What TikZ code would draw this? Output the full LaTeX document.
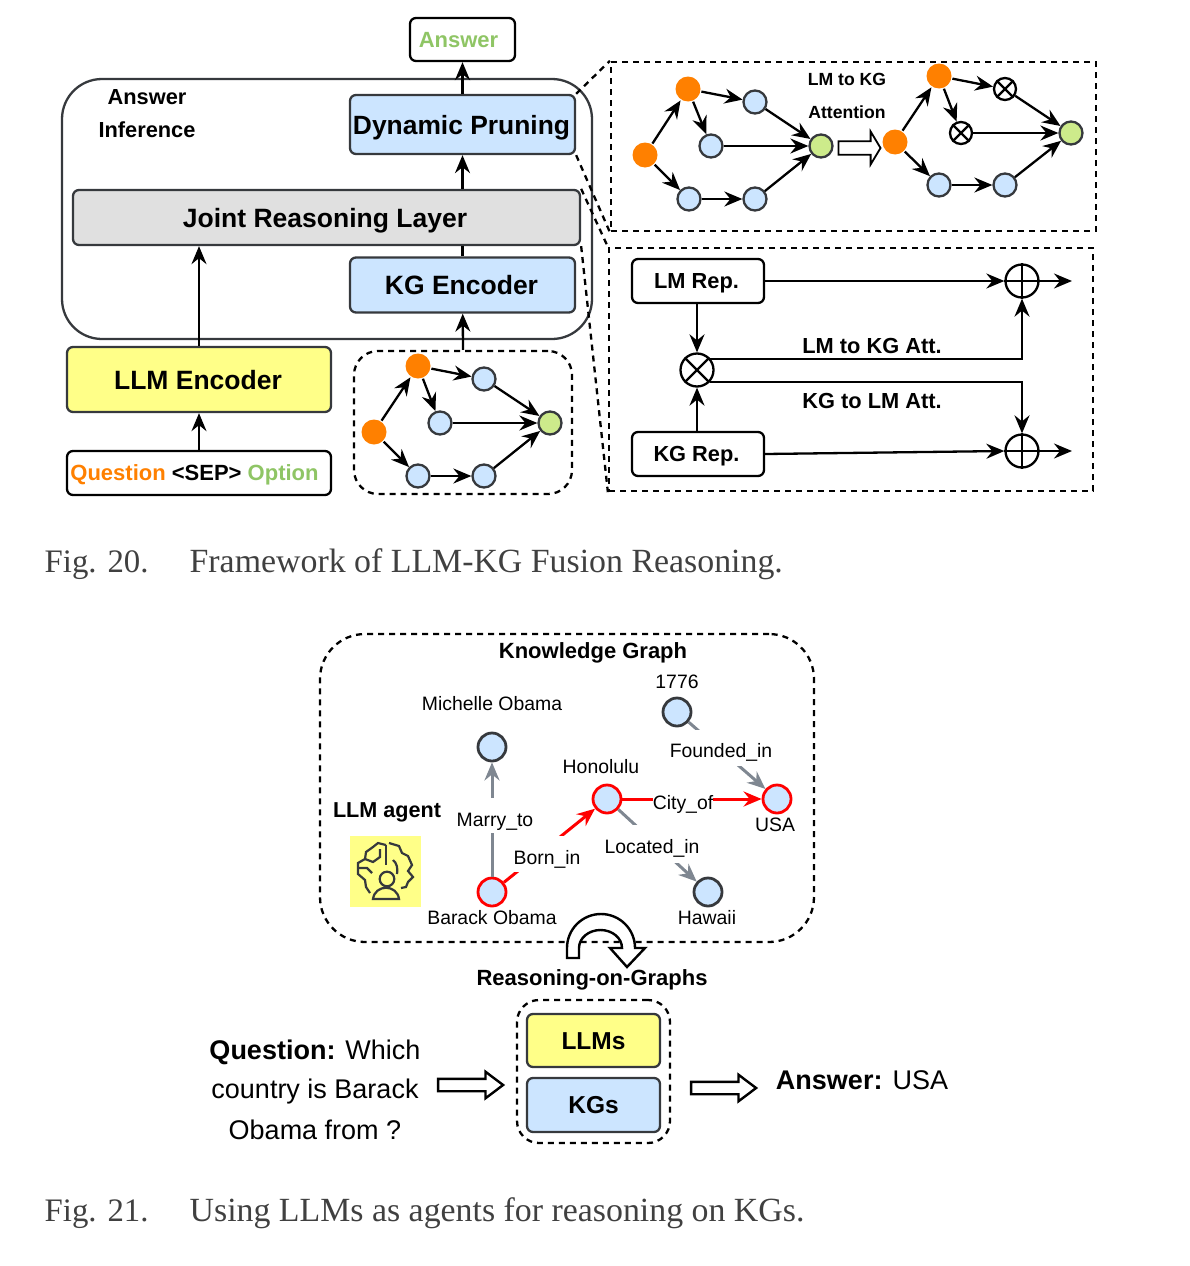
\documentclass[tikz,border=0pt]{standalone}
\usepackage{fontspec}
\setmainfont{Liberation Sans}
\newfontfamily\capfont{Liberation Serif}
\usetikzlibrary{arrows.meta,shapes.arrows}
\definecolor{nodeblue}{HTML}{CCE5FF}
\definecolor{nodeorange}{HTML}{FF8000}
\definecolor{nodegreen}{HTML}{CDEB8B}
\definecolor{boxyellow}{HTML}{FFFF88}
\definecolor{boxgray}{HTML}{E0E0E0}
\definecolor{edgegray}{HTML}{36393D}
\definecolor{linkgray}{HTML}{7F8791}
\definecolor{textgreen}{HTML}{8FC565}
\definecolor{capgray}{HTML}{404040}
\newcommand{\sz}[1]{\fontsize{#1}{#1}\selectfont}

\begin{document}
\begin{tikzpicture}[x=1pt, y=-1pt, line width=2.3pt, >={Stealth[length=18pt,width=15pt,inset=6pt]},
  capsize/.code={\pgfmathsetmacro\caph{0.72*#1}\tikzset{font=\sz{#1}\bfseries, text height=\caph pt, text depth=0pt}},
  regsize/.code={\pgfmathsetmacro\caph{0.72*#1}\tikzset{font=\sz{#1}, text height=\caph pt, text depth=0pt}},
  block/.style={draw=edgegray, rounded corners=6pt, inner sep=0pt},
  plainblock/.style={draw=black, rounded corners=6pt, inner sep=0pt},
  dashbox/.style={draw=black, dash pattern=on 6pt off 5pt, inner sep=0pt},
  gblue/.style={circle, draw=edgegray, fill=nodeblue, minimum size=23pt, inner sep=0pt},
  gorange/.style={circle, fill=nodeorange, minimum size=25pt, inner sep=0pt},
  ggreen/.style={circle, draw=edgegray, fill=nodegreen, minimum size=23pt, inner sep=0pt},
  opnode/.style={circle, draw=black, minimum size=33pt, inner sep=0pt},
  smallop/.style={circle, draw=black, minimum size=22pt, inner sep=0pt},
  kgnode/.style={circle, draw=edgegray, fill=nodeblue, minimum size=28pt, inner sep=0pt, line width=2.8pt},
  kgred/.style={kgnode, draw=red},
  kgedge/.style={line width=3pt},
  hollow/.style={single arrow, draw=black, fill=white, inner xsep=0pt},
  edgelabel/.style={anchor=base, fill=white, inner sep=0pt, font=\sz{19.4}},
  kglabel/.style={font=\sz{19.4}},
  boldlabel/.style={capsize=21.8},
  caption/.style={anchor=base west, inner sep=0pt, text=capgray, font=\capfont\sz{33.85}}]
  \useasboundingbox (0,0) rectangle (1190,1266);

  % Outer box
  \node[draw=edgegray, rounded corners=40pt, minimum width=530pt, minimum height=260pt] (AI) at (327,209) {};
  \node[boldlabel] (T1) at (147,97) {Answer};
  \node[boldlabel] (T2) at (147,130) {Inference};

  % Blocks
  \node[plainblock, minimum width=105pt, minimum height=43pt, capsize=22, text=textgreen] (Ans) at (462.5,39.5) {Answer\kern8pt};
  \node[block, fill=nodeblue, minimum width=225pt, minimum height=59pt, capsize=26.4] (DP) at (462.5,124.5) {Dynamic Pruning\kern2pt};
  \node[block, fill=boxgray, minimum width=507pt, minimum height=55pt, capsize=26.5] (JR) at (326.5,217.5) {Joint Reasoning Layer\kern3pt};
  \node[block, fill=nodeblue, minimum width=225pt, minimum height=55pt, capsize=26.5] (KG) at (462.5,285) {KG Encoder\kern2pt};
  \node[block, fill=boxyellow, minimum width=264pt, minimum height=65pt, capsize=26.5] (LE) at (199,379.5) {LLM Encoder\kern2pt};
  \node[plainblock, minimum width=264pt, minimum height=44pt, capsize=22] (QS) at (199,473) {\textcolor{nodeorange}{Question} <SEP> \textcolor{textgreen}{Option}\kern9pt};

  % Graph box
  \node[dashbox, rounded corners=24pt, minimum width=218pt, minimum height=143pt] (GB) at (463,422.5) {};
  \node[gorange] (a1) at (374,432) {};
  \node[gorange] (a2) at (418,366) {};
  \node[gblue] (a3) at (484,379) {};
  \node[gblue] (a4) at (440,423) {};
  \node[gblue] (a5) at (418,476) {};
  \node[gblue] (a6) at (484,476) {};
  \node[ggreen] (a7) at (550,423) {};
  \draw[->] (a1) -- (a2);
  \draw[->] (a2) -- (a3);
  \draw[->] (a2) -- (a4);
  \draw[->] (a3) -- (a7);
  \draw[->] (a4) -- (a7);
  \draw[->] (a1) -- (a5);
  \draw[->] (a5) -- (a6);
  \draw[->] (a6) -- (a7);

  % Block arrows
  \draw[->] (QS) -- (LE);
  \draw[->] (LE.north) -- (JR.south -| LE.north);
  \draw[->] (JR.north -| DP) -- (DP);
  \draw[->] (DP) -- (Ans);
  \draw (KG.north) -- (JR.south -| KG);
  \draw[->] (GB.north) -- (KG);

  % Zoom panels
  \node[dashbox, minimum width=485pt, minimum height=169pt] (PU) at (853.5,146.5) {};
  \node[dashbox, minimum width=484pt, minimum height=243pt] (PL) at (851,369.5) {};
  \draw[dashbox] (DP.north east) -- (PU.north west);
  \draw[dashbox] (DP.south east) -- (PU.south west);
  \draw[dashbox] (JR.north east) -- (PL.north west);
  \draw[dashbox] (JR.south east) -- (PL.south west);

  % Upper panel
  \node[gorange] (b1) at (645,155) {};
  \node[gorange] (b2) at (688,89) {};
  \node[gblue] (b3) at (755,102) {};
  \node[gblue] (b4) at (711,146) {};
  \node[gblue] (b5) at (689,199) {};
  \node[gblue] (b6) at (755,199) {};
  \node[ggreen] (b7) at (821,146) {};
  \draw[->] (b1) -- (b2);
  \draw[->] (b2) -- (b3);
  \draw[->] (b2) -- (b4);
  \draw[->] (b3) -- (b7);
  \draw[->] (b4) -- (b7);
  \draw[->] (b1) -- (b5);
  \draw[->] (b5) -- (b6);
  \draw[->] (b6) -- (b7);
  \node[capsize=17.6] (T3) at (847,79) {LM to KG};
  \node[capsize=17.6] (T4) at (847,112) {Attention};
  \node[hollow, minimum height=42pt, minimum width=33pt, inner ysep=4pt, line width=1.8pt, single arrow tip angle=118] (HA) at (857.5,148) {};
  \node[gorange] (c1) at (895,142) {};
  \node[gorange] (c2) at (939,76) {};
  \node[smallop] (c3) at (1005,89) {};
  \node[smallop] (c4) at (961,133) {};
  \node[gblue] (c5) at (939,185) {};
  \node[gblue] (c6) at (1005,185) {};
  \node[ggreen] (c7) at (1071,133) {};
  \draw (c3.north west) -- (c3.south east) (c3.north east) -- (c3.south west);
  \draw (c4.north west) -- (c4.south east) (c4.north east) -- (c4.south west);
  \draw[->] (c1) -- (c2);
  \draw[->] (c2) -- (c3);
  \draw[->] (c2) -- (c4);
  \draw[->] (c3) -- (c7);
  \draw[->] (c4) -- (c7);
  \draw[->] (c1) -- (c5);
  \draw[->] (c5) -- (c6);
  \draw[->] (c6) -- (c7);

  % Lower panel
  \node[plainblock, minimum width=132pt, minimum height=44pt, capsize=21.8] (LM) at (698,281) {LM Rep.\kern3pt};
  \node[plainblock, minimum width=132pt, minimum height=44pt, capsize=21.8] (KR) at (698,454) {KG Rep.\kern3pt};
  \node[opnode] (Mul) at (697,370) {};
  \node[opnode] (Add1) at (1022,281) {};
  \node[opnode] (Add2) at (1022,451) {};
  \draw (Mul.north west) -- (Mul.south east) (Mul.north east) -- (Mul.south west);
  \draw (Add1.north) -- (Add1.south) (Add1.west) -- (Add1.east);
  \draw (Add2.north) -- (Add2.south) (Add2.west) -- (Add2.east);
  \coordinate (E1) at (1072,281);
  \coordinate (E2) at (1072,451);
  \coordinate (M1) at (710,359);
  \coordinate (M2) at (710,382);
  \draw[->] (LM.east) -- (Add1.west);
  \draw[->] (KR.east) -- (Add2.west);
  \draw[->] (Add1.east) -- (E1);
  \draw[->] (Add2.east) -- (E2);
  \draw[->] (LM.south -| Mul) -- (Mul.north);
  \draw[->] (KR.north -| Mul) -- (Mul.south);
  \draw[->] (M1) -- (M1 -| Add1) -- (Add1.south);
  \draw[->] (M2) -- (M2 -| Add2) -- (Add2.north);
  \node[boldlabel] (T5) at (872,346) {LM to KG Att.};
  \node[boldlabel] (T6) at (872,401) {KG to LM Att.};

  % Fig. 20 caption
  \node[caption, font=\capfont\sz{32.8}] (C1) at (43.5,572) {Fig. 20.};
  \node[caption] (C2) at (188.5,572) {Framework of LLM-KG Fusion Reasoning.};

  % Knowledge graph box
  \node[dashbox, rounded corners=45pt, minimum width=494pt, minimum height=308pt] (KB) at (567,788) {};
  \node[capsize=22] (T7) at (593,651) {Knowledge Graph};
  \node[capsize=21.6] (T8) at (387,810) {LLM agent};

  % Knowledge graph nodes
  \node[kgnode] (N1) at (677,712) {};
  \node[kgnode] (N2) at (492,747) {};
  \node[kgred] (N3) at (607,799) {};
  \node[kgred] (N4) at (777,799) {};
  \node[kgred] (N5) at (492,892) {};
  \node[kgnode] (N6) at (708,892) {};
  \node[kglabel] (L1) at (677,682) {1776};
  \node[kglabel] (L2) at (492,704) {Michelle Obama};
  \node[kglabel] (L3) at (601,767) {Honolulu};
  \node[kglabel] (L4) at (775,825) {USA};
  \node[kglabel] (L5) at (492,918) {Barack Obama};
  \node[kglabel] (L6) at (707,918) {Hawaii};

  % Knowledge graph edges
  \draw[->, kgedge, draw=linkgray] (N5) -- (N2);
  \draw[->, kgedge, draw=linkgray] (N1) -- (N4);
  \draw[->, kgedge, draw=linkgray] (N3) -- (N6);
  \draw[->, kgedge, draw=red] (N5) -- (N3);
  \draw[->, kgedge, draw=red] (N3) -- (N4);
  \node[edgelabel, text height=28pt, text depth=7pt] (R1) at (495,826) {Marry\_to};
  \node[edgelabel, text height=28pt, text depth=8pt] (R2) at (547,864) {Born\_in};
  \node[edgelabel, text height=15pt, text depth=4pt] (R3) at (683,809) {City\_of};
  \node[edgelabel, text height=28pt, text depth=10pt] (R4) at (652,853) {Located\_in};
  \node[edgelabel, text height=27pt, text depth=9pt] (R5) at (721,757) {Founded\_in};

  % Agent icon
  \node[fill=boxyellow, minimum size=71pt, inner sep=0pt] (Icon) at (385.5,871.5) {};
  \begin{scope}[draw=edgegray, line width=2.2pt]
    \draw (387,879) circle (7.3);
    \draw (373,899) .. controls (375,884) and (397,884) .. (399,899) -- cycle;
    \draw (389,843) -- (399,846) -- (402,853) -- (408,856) -- (412,865) -- (408,871) -- (413,877) -- (408,882) -- (406,887) -- (401,888);
    \draw (386,845) -- (378,843) -- (373,847) -- (366,852) -- (365,859) -- (358,863) -- (358,874) -- (365,880) -- (366,887) -- (370,893);
    \draw (386,845) -- (386,865);
    \draw (380,849) -- (380,857) -- (373,862) -- (365,859);
    \draw (358,868) -- (367,868) -- (372,873);
    \draw (393,860) .. controls (397,863) and (398,869) .. (397,874);
  \end{scope}

  % Curved arrow
  \draw[fill=white, draw=black, line width=2.4pt] (567,958) -- (567,948) arc[start angle=180, end angle=360, x radius=34, y radius=34] -- (645,948) -- (627,967) -- (610,948) -- (622,948) arc[start angle=0, end angle=-180, x radius=21.5, y radius=18] -- (579,958) -- cycle;
  \node[capsize=22] (T9) at (592,978) {Reasoning-on-Graphs};

  % Bottom row
  \node[dashbox, rounded corners=22pt, minimum width=153pt, minimum height=143pt] (SB) at (593.5,1071.5) {};
  \node[block, fill=boxyellow, minimum width=133pt, minimum height=53pt, capsize=24.5] (LL) at (593.5,1040.5) {LLMs};
  \node[block, fill=nodeblue, minimum width=133pt, minimum height=54pt, capsize=24.5] (KS) at (593.5,1105) {KGs};
  \node[regsize=27] (Q1) at (315,1050) {\textbf{Question:} Which};
  \node[regsize=27] (Q2) at (315,1089) {country is Barack};
  \node[regsize=27] (Q3) at (315,1130) {Obama from ?};
  \node[hollow, minimum height=65pt, minimum width=26pt, inner ysep=5pt, line width=2.4pt, single arrow tip angle=74] (HB) at (466.5,1085) {};
  \node[hollow, minimum height=65pt, minimum width=26pt, inner ysep=5pt, line width=2.4pt, single arrow tip angle=74] (HC) at (719.5,1088) {};
  \node[regsize=27] (Q4) at (862,1080) {\textbf{Answer:} USA};

  % Fig. 21 caption
  \node[caption, font=\capfont\sz{32.8}] (C3) at (43.5,1221) {Fig. 21.};
  \node[caption] (C4) at (188.5,1221) {Using LLMs as agents for reasoning on KGs.};
\end{tikzpicture}
\end{document}
